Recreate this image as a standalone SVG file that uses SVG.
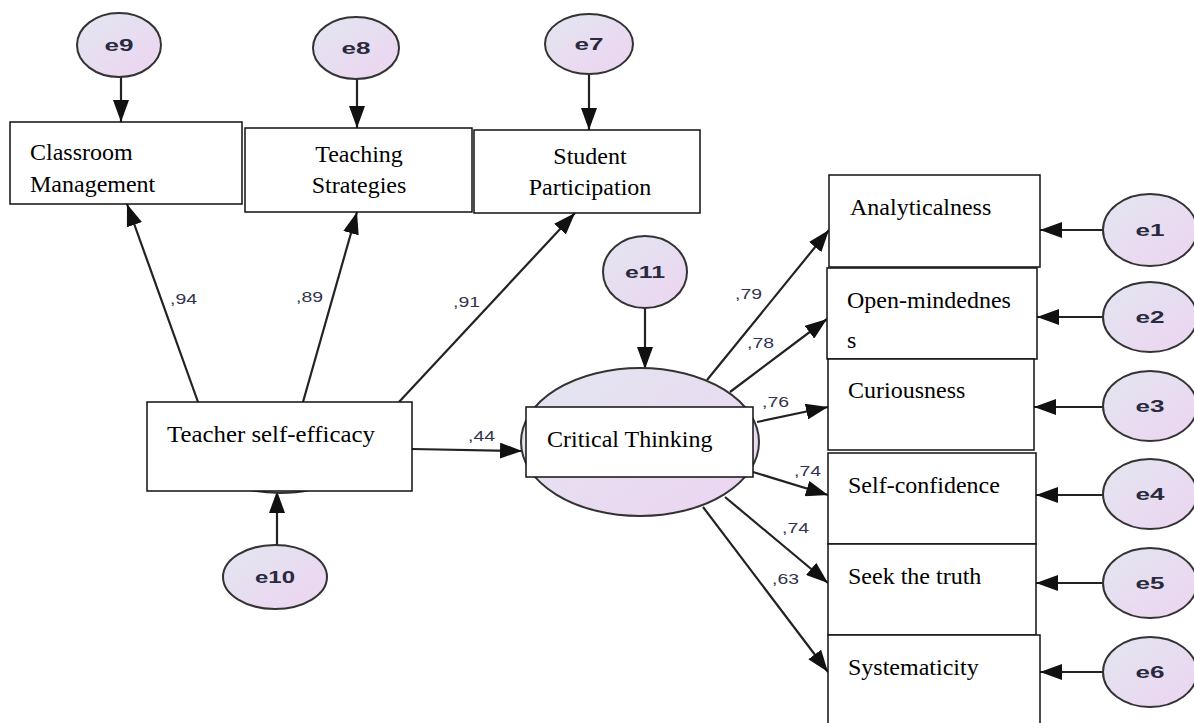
<svg xmlns="http://www.w3.org/2000/svg" width="1194" height="723" viewBox="0 0 1194 723">
<defs>
<linearGradient id="g" x1="0" y1="0" x2="1" y2="1">
<stop offset="0" stop-color="#e2e6f0"/>
<stop offset="1" stop-color="#edd4f1"/>
</linearGradient>
<marker id="ah" markerUnits="userSpaceOnUse" markerWidth="22" markerHeight="16" refX="22" refY="8" orient="auto">
<path d="M0,0 L22,8 L0,16 z" fill="#111"/>
</marker>
</defs>
<style>
.conn line{stroke:#222;stroke-width:2.2;marker-end:url(#ah)}
.lat{fill:url(#g);stroke:#333;stroke-width:2}
.box{fill:#fff;stroke:#111;stroke-width:1.5}
.t{font-family:"Liberation Serif","Times New Roman",serif;font-size:24px;fill:#000}
.e{font-family:"Liberation Sans",Arial,sans-serif;font-size:17px;font-weight:bold;fill:#2a2a3e;text-anchor:middle}
.c{font-family:"Liberation Sans",Arial,sans-serif;font-size:14px;fill:#33334f}
</style>
<rect width="1194" height="723" fill="#fff"/>
<g class="conn" id="connectors">
<line x1="121" y1="77" x2="121" y2="122"/>
<line x1="357" y1="79" x2="357" y2="128"/>
<line x1="589" y1="74" x2="589" y2="130"/>
<line x1="198" y1="402" x2="127" y2="204"/>
<line x1="303" y1="402" x2="357" y2="212"/>
<line x1="399" y1="402" x2="575" y2="213"/>
<line x1="277" y1="545" x2="277" y2="491"/>
<line x1="412" y1="449" x2="522" y2="451"/>
<line x1="645" y1="308" x2="645" y2="369"/>
<line x1="707" y1="380" x2="829" y2="230"/>
<line x1="730" y1="392" x2="827" y2="319"/>
<line x1="757" y1="422" x2="828" y2="407"/>
<line x1="753" y1="472" x2="828" y2="495"/>
<line x1="725" y1="497" x2="828" y2="583"/>
<line x1="703" y1="507" x2="828" y2="672"/>
<line x1="1103" y1="230" x2="1040" y2="230"/>
<line x1="1103" y1="317" x2="1037" y2="317"/>
<line x1="1103" y1="407" x2="1034" y2="407"/>
<line x1="1103" y1="495" x2="1036" y2="495"/>
<line x1="1103" y1="583" x2="1036" y2="583"/>
<line x1="1103" y1="672" x2="1040" y2="672"/>
</g>
<g id="coefs">
<text class="c" x="170" y="304" textLength="27" lengthAdjust="spacingAndGlyphs">,94</text>
<text class="c" x="296" y="302" textLength="27" lengthAdjust="spacingAndGlyphs">,89</text>
<text class="c" x="453" y="307" textLength="27" lengthAdjust="spacingAndGlyphs">,91</text>
<text class="c" x="468" y="441" textLength="27" lengthAdjust="spacingAndGlyphs">,44</text>
<text class="c" x="735" y="299" textLength="27" lengthAdjust="spacingAndGlyphs">,79</text>
<text class="c" x="747" y="348" textLength="27" lengthAdjust="spacingAndGlyphs">,78</text>
<text class="c" x="762" y="407" textLength="27" lengthAdjust="spacingAndGlyphs">,76</text>
<text class="c" x="794" y="476" textLength="27" lengthAdjust="spacingAndGlyphs">,74</text>
<text class="c" x="782" y="533" textLength="27" lengthAdjust="spacingAndGlyphs">,74</text>
<text class="c" x="772" y="584" textLength="27" lengthAdjust="spacingAndGlyphs">,63</text>
</g>
<g id="e9"><ellipse class="lat" cx="119" cy="45" rx="42" ry="32"/><text class="e" x="119" y="51" textLength="29" lengthAdjust="spacingAndGlyphs">e9</text></g>
<g id="e8"><ellipse class="lat" cx="356" cy="48" rx="43" ry="31"/><text class="e" x="356" y="54" textLength="29" lengthAdjust="spacingAndGlyphs">e8</text></g>
<g id="e7"><ellipse class="lat" cx="589" cy="44" rx="44" ry="30"/><text class="e" x="589" y="50" textLength="29" lengthAdjust="spacingAndGlyphs">e7</text></g>
<g id="classroom"><rect class="box" x="10" y="122" width="232" height="82"/><text class="t" x="30" y="160">Classroom</text><text class="t" x="30" y="192">Management</text></g>
<g id="teaching"><rect class="box" x="245" y="128" width="227" height="84"/><text class="t" x="359" y="162" text-anchor="middle">Teaching</text><text class="t" x="359" y="193" text-anchor="middle">Strategies</text></g>
<g id="student"><rect class="box" x="474" y="130" width="226" height="83"/><text class="t" x="590" y="164" text-anchor="middle">Student</text><text class="t" x="590" y="195" text-anchor="middle">Participation</text></g>
<g id="teacher"><ellipse class="lat" cx="280" cy="451" rx="80" ry="42"/><rect class="box" x="147" y="402" width="265" height="89"/><text class="t" x="167" y="442" textLength="208" lengthAdjust="spacingAndGlyphs">Teacher self-efficacy</text></g>
<g id="e10"><ellipse class="lat" cx="275" cy="577" rx="52" ry="32"/><text class="e" x="275" y="583" textLength="40" lengthAdjust="spacingAndGlyphs">e10</text></g>
<g id="e11"><ellipse class="lat" cx="645" cy="272" rx="42" ry="36"/><text class="e" x="645" y="278" textLength="40" lengthAdjust="spacingAndGlyphs">e11</text></g>
<g id="critical"><ellipse class="lat" cx="640" cy="442" rx="119" ry="74"/><rect class="box" x="526" y="407" width="227" height="70"/><text class="t" x="547" y="447">Critical Thinking</text></g>
<g id="analyticalness"><rect class="box" x="829" y="175" width="211" height="92"/><text class="t" x="850" y="215">Analyticalness</text></g>
<g id="openmindedness"><rect class="box" x="827" y="268" width="210" height="91"/><text class="t" x="847" y="308">Open-mindednes</text><text class="t" x="847" y="348">s</text></g>
<g id="curiousness"><rect class="box" x="828" y="359" width="206" height="91"/><text class="t" x="848" y="398">Curiousness</text></g>
<g id="selfconfidence"><rect class="box" x="828" y="453" width="208" height="91"/><text class="t" x="848" y="493">Self-confidence</text></g>
<g id="seektruth"><rect class="box" x="828" y="544" width="208" height="91"/><text class="t" x="848" y="584">Seek the truth</text></g>
<g id="systematicity"><rect class="box" x="828" y="635" width="212" height="100"/><text class="t" x="848" y="675">Systematicity</text></g>
<g id="e1"><ellipse class="lat" cx="1150" cy="230" rx="47" ry="36"/><text class="e" x="1150" y="236" textLength="29" lengthAdjust="spacingAndGlyphs">e1</text></g>
<g id="e2"><ellipse class="lat" cx="1150" cy="317" rx="47" ry="35"/><text class="e" x="1150" y="323" textLength="29" lengthAdjust="spacingAndGlyphs">e2</text></g>
<g id="e3"><ellipse class="lat" cx="1150" cy="406" rx="47" ry="35"/><text class="e" x="1150" y="412" textLength="29" lengthAdjust="spacingAndGlyphs">e3</text></g>
<g id="e4"><ellipse class="lat" cx="1150" cy="494" rx="47" ry="35"/><text class="e" x="1150" y="500" textLength="29" lengthAdjust="spacingAndGlyphs">e4</text></g>
<g id="e5"><ellipse class="lat" cx="1150" cy="583" rx="47" ry="35"/><text class="e" x="1150" y="589" textLength="29" lengthAdjust="spacingAndGlyphs">e5</text></g>
<g id="e6"><ellipse class="lat" cx="1150" cy="672" rx="47" ry="35"/><text class="e" x="1150" y="678" textLength="29" lengthAdjust="spacingAndGlyphs">e6</text></g>
</svg>
